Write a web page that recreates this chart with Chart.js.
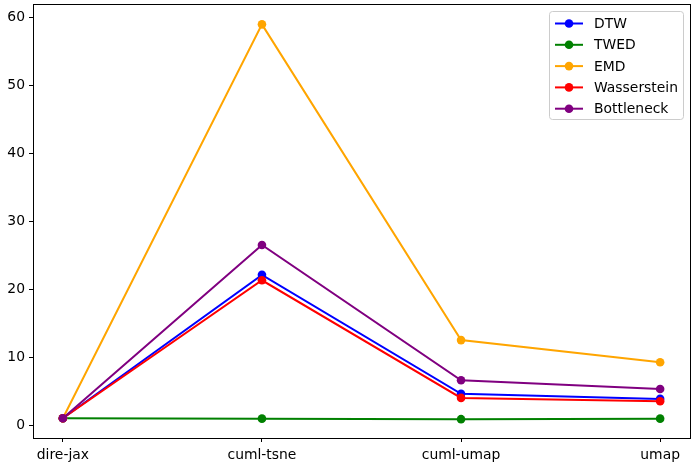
<!DOCTYPE html>
<html>
<head>
<meta charset="utf-8">
<script src="https://cdn.jsdelivr.net/npm/chart.js@4.4.1/dist/chart.umd.min.js"></script>
<style>
  html, body { margin: 0; padding: 0; background: #fff; }
  #wrap { width: 695px; height: 465px; }
</style>
</head>
<body>
<div id="wrap"><canvas id="grafico" width="695" height="465"></canvas></div>
<script>
// datos
const categorias = ['dire-jax', 'cuml-tsne', 'cuml-umap', 'umap'];
const dtw = [1.0, 22.1, 4.6, 3.85];
const twed = [1.0, 0.95, 0.87, 0.95];
const emd = [1.0, 58.95, 12.5, 9.25];
const wasserstein = [1.0, 21.3, 4.0, 3.5];
const bottleneck = [1.0, 26.5, 6.6, 5.3];
const ticksY = [0, 10, 20, 30, 40, 50, 60];

const series = [
    { nombre: 'DTW', valores: dtw, color: '#0000ff' },
    { nombre: 'TWED', valores: twed, color: '#008000' },
    { nombre: 'EMD', valores: emd, color: '#ffa500' },
    { nombre: 'Wasserstein', valores: wasserstein, color: '#ff0000' },
    { nombre: 'Bottleneck', valores: bottleneck, color: '#800080' }
];

const fuente = { family: 'DejaVu Sans', size: 13.9 };

// marco completo del area del grafico
const marco = {
    id: 'marco',
    afterDatasetsDraw(chart) {
        const a = chart.chartArea;
        const ctx = chart.ctx;
        ctx.save();
        ctx.strokeStyle = '#000';
        ctx.lineWidth = 1;
        ctx.strokeRect(Math.round(a.left) + 0.5, Math.round(a.top) + 0.5, Math.round(a.right - a.left), Math.round(a.bottom - a.top));
        ctx.restore();
    }
};

// leyenda estilo matplotlib dentro del area
const leyenda = {
    id: 'leyenda',
    afterDraw(chart) {
        const ctx = chart.ctx;
        const x0 = 549, y0 = 11, w = 134, h = 108;
        ctx.save();
        ctx.fillStyle = 'rgba(255,255,255,0.8)';
        ctx.strokeStyle = '#cccccc';
        ctx.lineWidth = 1;
        ctx.beginPath();
        ctx.roundRect(x0 + 0.5, y0 + 0.5, w, h, 3);
        ctx.fill();
        ctx.stroke();
        ctx.font = '13.9px "DejaVu Sans"';
        ctx.textBaseline = 'middle';
        series.forEach(function (s, i) {
            const y = y0 + 12.5 + i * 21.3;
            ctx.strokeStyle = s.color;
            ctx.lineWidth = 2;
            ctx.beginPath();
            ctx.moveTo(555, y);
            ctx.lineTo(583, y);
            ctx.stroke();
            ctx.fillStyle = s.color;
            ctx.beginPath();
            ctx.arc(569, y, 4.3, 0, Math.PI * 2);
            ctx.fill();
            ctx.fillStyle = '#000';
            ctx.fillText(s.nombre, 594, y + 1);
        });
        ctx.restore();
    }
};

new Chart(document.getElementById('grafico').getContext('2d'), {
    type: 'line',
    data: {
        datasets: series.map(function (s, i) {
            return {
                label: s.nombre,
                data: s.valores.map(function (v, j) { return { x: j, y: v }; }),
                borderColor: s.color,
                backgroundColor: s.color,
                pointBackgroundColor: s.color,
                pointBorderWidth: 0,
                pointRadius: 4.3,
                borderWidth: 2,
                tension: 0,
                fill: false,
                order: series.length - i
            };
        })
    },
    options: {
        responsive: false,
        animation: false,
        layout: { padding: { top: 4, right: 5, left: 0, bottom: 0 } },
        plugins: { legend: { display: false }, tooltip: { enabled: false } },
        scales: {
            x: {
                type: 'linear',
                min: -0.15,
                max: 3.15,
                afterBuildTicks: function (scale) {
                    scale.ticks = categorias.map(function (c, i) { return { value: i }; });
                },
                afterFit: function (scale) {
                    scale.height = 27;
                    scale.paddingLeft = 0;
                    scale.paddingRight = 0;
                },
                ticks: {
                    color: '#000',
                    font: fuente,
                    padding: 5,
                    maxRotation: 0,
                    autoSkip: false,
                    callback: function (v) { return categorias[v]; }
                },
                grid: { drawOnChartArea: false, drawTicks: true, tickLength: 4, color: '#000' },
                border: { display: false }
            },
            y: {
                min: -1.9,
                max: 61.9,
                afterBuildTicks: function (scale) {
                    scale.ticks = ticksY.map(function (v) { return { value: v }; });
                },
                afterFit: function (scale) {
                    scale.width = 33;
                    scale.paddingTop = 0;
                    scale.paddingBottom = 0;
                },
                ticks: { color: '#000', font: fuente, padding: 4 },
                grid: { drawOnChartArea: false, drawTicks: true, tickLength: 4, color: '#000' },
                border: { display: false }
            }
        }
    },
    plugins: [marco, leyenda]
});
</script>
</body>
</html>
